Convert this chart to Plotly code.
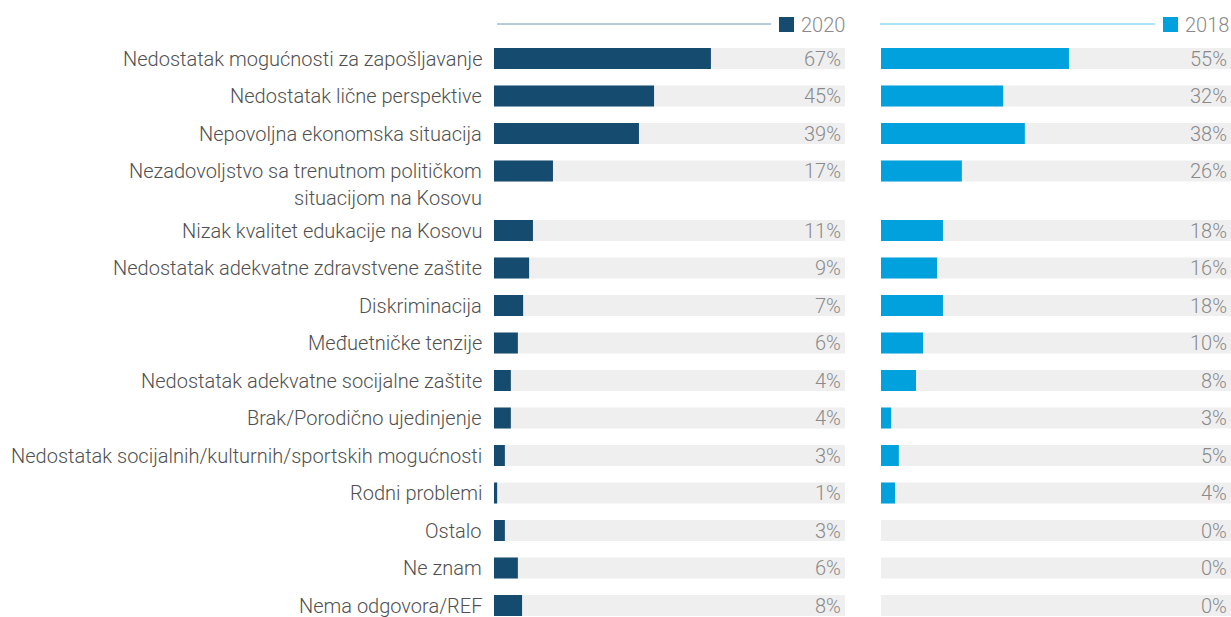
import plotly.graph_objects as go

# ---------------- data ----------------
categories = [
    "Nedostatak mogućnosti za zapošljavanje",
    "Nedostatak lične perspektive",
    "Nepovoljna ekonomska situacija",
    "Nezadovoljstvo sa trenutnom političkom\nsituacijom na Kosovu",
    "Nizak kvalitet edukacije na Kosovu",
    "Nedostatak adekvatne zdravstvene zaštite",
    "Diskriminacija",
    "Međuetničke tenzije",
    "Nedostatak adekvatne socijalne zaštite",
    "Brak/Porodično ujedinjenje",
    "Nedostatak socijalnih/kulturnih/sportskih mogućnosti",
    "Rodni problemi",
    "Ostalo",
    "Ne znam",
    "Nema odgovora/REF",
]
# printed labels (%)
labels_2020 = [67, 45, 39, 17, 11, 9, 7, 6, 4, 4, 3, 1, 3, 6, 8]
labels_2018 = [55, 32, 38, 26, 18, 16, 18, 10, 8, 3, 5, 4, 0, 0, 0]
# bar lengths as drawn in the picture (% of the grey track)
bars_2020 = [61.8, 45.6, 41.3, 16.8, 11.1, 10.0, 8.3, 6.8, 4.8, 4.8, 3.1, 0.9, 3.1, 6.8, 8.0]
bars_2018 = [53.7, 34.9, 41.1, 23.1, 17.7, 16.0, 17.7, 12.0, 10.0, 2.9, 5.1, 4.0, 0, 0, 0]
track_max = 100
series_names = ["2020", "2018"]

# ---------------- style ----------------
W, H = 1231, 617
C_DARK = "#164b70"
C_LIGHT = "#00a1dc"
C_TRACK = "#efefef"
C_LABEL = "#505050"
C_VALUE = "#8a8a8a"
FONT = "Roboto"
FS = 20

# row positions (extra gap after the two-line label)
ypos = []
off = 0.0
for i, c in enumerate(categories):
    ypos.append(i + off)
    if "\n" in c:
        off += 0.587
top_px, pitch_px = 58.5, 37.5
y_top = ypos[0] - top_px / pitch_px
y_bot = ypos[-1] + (H - (top_px + (ypos[-1] - ypos[0]) * pitch_px)) / pitch_px

fig = go.Figure()
panels = [("x", bars_2020, labels_2020, C_DARK), ("x2", bars_2018, labels_2018, C_LIGHT)]
for xa, bars, labs, col in panels:
    fig.add_trace(go.Bar(x=[track_max] * len(categories), y=ypos, orientation="h",
                         marker=dict(color=C_TRACK, line=dict(width=0)), width=0.56,
                         xaxis=xa, yaxis="y", hoverinfo="skip"))
    fig.add_trace(go.Bar(x=bars, y=ypos, orientation="h",
                         marker=dict(color=col, line=dict(width=0)), width=0.56,
                         xaxis=xa, yaxis="y",
                         customdata=labs, hovertemplate="%{customdata}%<extra></extra>"))

annotations = []
# category labels
for c, y in zip(categories, ypos):
    for k, line in enumerate(c.split("\n")):
        annotations.append(dict(x=484 / W, xref="paper", y=y, yref="y", text=line,
                                xanchor="right", yanchor="middle", showarrow=False,
                                yshift=-27 * k,
                                font=dict(family=FONT, size=FS, color=C_LABEL, weight=300)))
# value labels
for xa, labs in [("x", labels_2020), ("x2", labels_2018)]:
    for v, y in zip(labs, ypos):
        annotations.append(dict(x=track_max, xref=xa, y=y, yref="y", text=f"{v}%",
                                xanchor="right", yanchor="middle", showarrow=False,
                                xshift=-2,
                                font=dict(family=FONT, size=FS, color=C_VALUE, weight=300)))

# legend-like headers
shapes = []
def py(px):
    return 1 - px / H
headers = [(497, 771, 779, "#6a98b6", C_DARK, series_names[0], 847),
           (880, 1155, 1163, "#5cc5ea", C_LIGHT, series_names[1], 1231)]
for x0, x1, sq, lc, col, name, tx in headers:
    shapes.append(dict(type="line", xref="paper", yref="paper", x0=x0 / W, x1=x1 / W,
                       y0=py(24), y1=py(24), line=dict(color=lc, width=1)))
    shapes.append(dict(type="rect", xref="paper", yref="paper", x0=sq / W, x1=(sq + 15) / W,
                       y0=py(32), y1=py(17), fillcolor=col, line=dict(width=0)))
    annotations.append(dict(x=tx / W, xref="paper", y=py(24.5), yref="paper", text=name,
                            xanchor="right", yanchor="middle", showarrow=False,
                            font=dict(family=FONT, size=FS, color=C_VALUE, weight=300)))

fig.update_layout(
    width=W, height=H, margin=dict(l=0, r=0, t=0, b=0),
    paper_bgcolor="white", plot_bgcolor="white",
    barmode="overlay", showlegend=False,
    xaxis=dict(domain=[494 / W, 845 / W], range=[0, track_max], visible=False,
               fixedrange=True, anchor="y"),
    xaxis2=dict(domain=[881 / W, 1231 / W], range=[0, track_max], visible=False,
                fixedrange=True, anchor="y"),
    yaxis=dict(range=[y_bot, y_top], visible=False, fixedrange=True),
    annotations=annotations, shapes=shapes,
)

fig.write_html("out.html", config={"displayModeBar": False},
               post_script="document.body.style.margin='0';document.body.style.overflow='hidden';")
